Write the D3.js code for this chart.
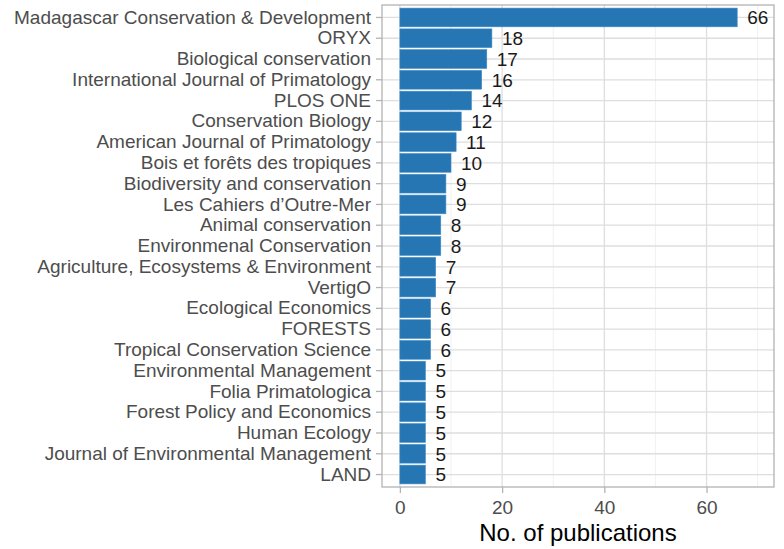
<!DOCTYPE html>
<html>
<head>
<meta charset="utf-8">
<script src="https://cdn.jsdelivr.net/npm/d3@7"></script>
<style>
  body { margin: 0; background: #fff; }
  svg { display: block; font-family: "Liberation Sans", Arial, sans-serif; }
</style>
</head>
<body>
<svg width="784" height="549"></svg>
<script>
const journals = [
  "Madagascar Conservation & Development", "ORYX", "Biological conservation",
  "International Journal of Primatology", "PLOS ONE", "Conservation Biology",
  "American Journal of Primatology", "Bois et forêts des tropiques",
  "Biodiversity and conservation", "Les Cahiers d’Outre-Mer", "Animal conservation",
  "Environmenal Conservation", "Agriculture, Ecosystems & Environment", "VertigO",
  "Ecological Economics", "FORESTS", "Tropical Conservation Science",
  "Environmental Management", "Folia Primatologica", "Forest Policy and Economics",
  "Human Ecology", "Journal of Environmental Management", "LAND"
];
const counts = [66, 18, 17, 16, 14, 12, 11, 10, 9, 9, 8, 8, 7, 7, 6, 6, 6, 5, 5, 5, 5, 5, 5];
const xTicks = [0, 20, 40, 60];
const xMinor = [10, 30, 50, 70];
const xTitle = "No. of publications";

const svg = d3.select("svg");
const panel = { left: 382, right: 774, top: 5, bottom: 487 };

const x = d3.scaleLinear().domain([-3.5, 73.2]).range([panel.left, panel.right]);
// ggplot-like discrete expansion: 0.6 of a step around the outer bar centres
const y = d3.scaleBand().domain(journals)
  .range([panel.top, panel.bottom])
  .paddingInner(0.1).paddingOuter(0.15);

// grid
const grid = svg.append("g");
grid.selectAll(".minor").data(xMinor).join("line")
  .attr("x1", d => x(d)).attr("x2", d => x(d))
  .attr("y1", panel.top).attr("y2", panel.bottom)
  .attr("stroke", "#ededed").attr("stroke-width", 0.8);
grid.selectAll(".major").data(xTicks).join("line")
  .attr("x1", d => x(d)).attr("x2", d => x(d))
  .attr("y1", panel.top).attr("y2", panel.bottom)
  .attr("stroke", "#dedede").attr("stroke-width", 1.3);
grid.selectAll(".hmajor").data(journals).join("line")
  .attr("x1", panel.left).attr("x2", panel.right)
  .attr("y1", d => y(d) + y.bandwidth() / 2).attr("y2", d => y(d) + y.bandwidth() / 2)
  .attr("stroke", "#dedede").attr("stroke-width", 1.3);

// bars
svg.append("g").selectAll("rect").data(journals).join("rect")
  .attr("x", x(0))
  .attr("y", d => y(d))
  .attr("width", (d, i) => x(counts[i]) - x(0))
  .attr("height", y.bandwidth())
  .attr("fill", "#2776b4")
  .attr("stroke", "#3d8ac4")
  .attr("stroke-width", 0.6);

// value labels
svg.append("g").selectAll("text").data(journals).join("text")
  .attr("x", (d, i) => x(counts[i]) + 10)
  .attr("y", d => y(d) + y.bandwidth() / 2)
  .attr("dy", "0.36em")
  .attr("font-size", 19)
  .attr("fill", "#1a1a1a")
  .text((d, i) => counts[i]);

// panel border
svg.append("rect")
  .attr("x", panel.left).attr("y", panel.top)
  .attr("width", panel.right - panel.left).attr("height", panel.bottom - panel.top)
  .attr("fill", "none").attr("stroke", "#b3b3b3").attr("stroke-width", 1.3);

// y axis
const yAxis = svg.append("g")
  .attr("transform", `translate(${panel.left},0)`)
  .call(d3.axisLeft(y).tickSize(6).tickPadding(5));
yAxis.select(".domain").remove();
yAxis.selectAll("line").attr("stroke", "#b3b3b3").attr("stroke-width", 1.3);
yAxis.selectAll("text").attr("font-size", 19).attr("fill", "#4d4d4d")
  .attr("font-family", "Liberation Sans, Arial, sans-serif");

// x axis
const xAxis = svg.append("g")
  .attr("transform", `translate(0,${panel.bottom})`)
  .call(d3.axisBottom(x).tickValues(xTicks).tickSize(6).tickPadding(8));
xAxis.select(".domain").remove();
xAxis.selectAll("line").attr("stroke", "#b3b3b3").attr("stroke-width", 1.3);
xAxis.selectAll("text").attr("font-size", 19).attr("fill", "#4d4d4d")
  .attr("font-family", "Liberation Sans, Arial, sans-serif");

svg.append("text")
  .attr("x", 578)
  .attr("y", 541)
  .attr("text-anchor", "middle")
  .attr("font-size", 24)
  .attr("fill", "#000")
  .text(xTitle);
</script>
</body>
</html>
